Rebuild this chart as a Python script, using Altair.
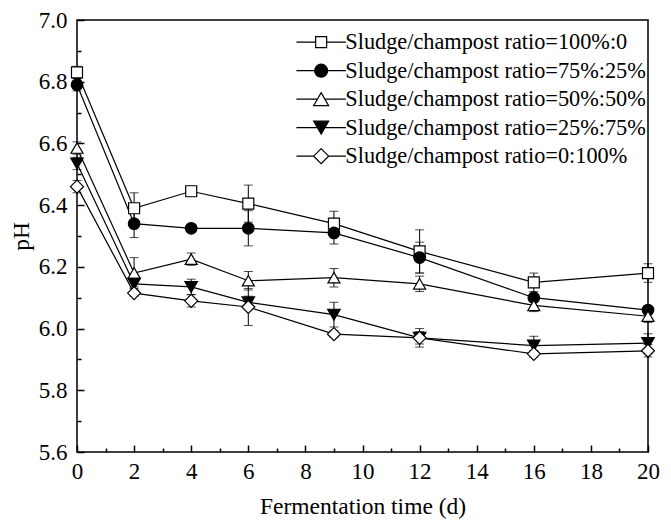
import altair as alt
import pandas as pd

days = [0, 2, 4, 6, 9, 12, 16, 20]
series_names = [
    "Sludge/champost ratio=100%:0",
    "Sludge/champost ratio=75%:25%",
    "Sludge/champost ratio=50%:50%",
    "Sludge/champost ratio=25%:75%",
    "Sludge/champost ratio=0:100%",
]
ph_100_0 = [6.83, 6.39, 6.445, 6.405, 6.34, 6.25, 6.15, 6.18]
ph_75_25 = [6.79, 6.34, 6.325, 6.325, 6.31, 6.23, 6.10, 6.06]
ph_50_50 = [6.585, 6.18, 6.225, 6.155, 6.165, 6.145, 6.075, 6.04]
ph_25_75 = [6.535, 6.145, 6.135, 6.085, 6.045, 5.97, 5.945, 5.953]
ph_0_100 = [6.46, 6.115, 6.09, 6.07, 5.982, 5.97, 5.918, 5.928]
err_100_0 = [0.02, 0.05, 0.01, 0.06, 0.04, 0.07, 0.03, 0.03]
err_75_25 = [0.02, 0.045, 0.01, 0.057, 0.036, 0.05, 0.01, 0.01]
err_50_50 = [0.02, 0.05, 0.02, 0.03, 0.03, 0.025, 0.02, 0.02]
err_25_75 = [0.02, 0.01, 0.025, 0.02, 0.04, 0.02, 0.03, 0.03]
err_0_100 = [0.02, 0.01, 0.02, 0.06, 0.01, 0.03, 0.01, 0.02]

x_label_values = list(range(0, 21, 2))
x_minor_values = list(range(1, 20, 2))
y_label_values = [round(5.6 + 0.2 * i, 1) for i in range(8)]
y_minor_values = [round(5.7 + 0.2 * i, 1) for i in range(7)]

marker_shapes = ["square", "circle", "triangle-up", "triangle-down", "diamond"]
marker_fills = ["white", "black", "white", "black", "white"]
marker_strokes = ["black", "black", "black", "black", "black"]
marker_sizes = [121, 169, 256, 256, 225]
legend_paths = [
    "M-4.5,0H-1M1,0H4.5M-1,-1H1V1H-1Z",
    "M-4.5,0H-1.18M1.18,0H4.5M1.18,0A1.18,1.18,0,1,1,-1.18,0A1.18,1.18,0,1,1,1.18,0Z",
    "M-4.5,0H-0.68M0.68,0H4.5M0,-1.18L1.36,1.18H-1.36Z",
    "M-4.5,0H-0.68M0.68,0H4.5M0,1.18L1.36,-1.18H-1.36Z",
    "M-4.5,0H-1.36M1.36,0H4.5M0,-1.36L1.36,0L0,1.36L-1.36,0Z",
]

rows = []
for name, vals, errs in zip(
    series_names,
    [ph_100_0, ph_75_25, ph_50_50, ph_25_75, ph_0_100],
    [err_100_0, err_75_25, err_50_50, err_25_75, err_0_100],
):
    for d, v, e in zip(days, vals, errs):
        rows.append({"series": name, "day": d, "ph": v, "lo": v - e, "hi": v + e})
df = pd.DataFrame(rows)

FONT = "Liberation Serif"
xs = alt.Scale(domain=[0, 20], nice=False, zero=False)
ys = alt.Scale(domain=[5.6, 7.0], nice=False, zero=False)

base = alt.Chart(df)

lines = base.mark_line(color="black", strokeWidth=1.2).encode(
    x=alt.X("day:Q", scale=xs, axis=alt.Axis(
        orient="bottom", values=x_label_values, ticks=False, domain=False, grid=False,
        labelPadding=8, format="d", title="Fermentation time (d)",
        titleY=61, titleBaseline="alphabetic",
        labelFontSize=23, titleFontSize=23.5, labelFlush=False)),
    y=alt.Y("ph:Q", scale=ys, axis=alt.Axis(
        orient="left", values=y_label_values, ticks=False, domain=False, grid=False,
        labelPadding=10, format=".1f", title="pH", titlePadding=5,
        labelFontSize=23, titleFontSize=23.5, labelFlush=False)),
    detail="series:N",
)

err_rules = base.mark_rule(color="black", strokeWidth=1).encode(
    x=alt.X("day:Q", scale=xs, axis=alt.Axis(
        orient="bottom", values=x_label_values, labels=False, domain=False, grid=False,
        tickSize=7, offset=-7, tickWidth=1.5, tickColor="black", title=None)),
    y=alt.Y("lo:Q", scale=ys, axis=alt.Axis(
        orient="left", values=y_label_values, labels=False, domain=False, grid=False,
        tickSize=7, offset=-7, tickWidth=1.5, tickColor="black", title=None)),
    y2="hi:Q",
)

caps = base.transform_fold(["lo", "hi"], as_=["end", "val"]).mark_tick(
    color="black", orient="horizontal", size=9, thickness=1
).encode(
    x=alt.X("day:Q", scale=xs, axis=alt.Axis(
        orient="bottom", values=x_minor_values, labels=False, domain=False, grid=False,
        tickSize=4, offset=-4, tickWidth=1.5, tickColor="black", title=None)),
    y=alt.Y("val:Q", scale=ys, axis=alt.Axis(
        orient="left", values=y_minor_values, labels=False, domain=False, grid=False,
        tickSize=4, offset=-4, tickWidth=1.5, tickColor="black", title=None)),
)

points = base.mark_point(filled=True, stroke="black", strokeWidth=1.2, opacity=1).encode(
    x=alt.X("day:Q", scale=xs, axis=None),
    y=alt.Y("ph:Q", scale=ys, axis=None),
    shape=alt.Shape("series:N", scale=alt.Scale(domain=series_names, range=marker_shapes), legend=None),
    fill=alt.Fill("series:N", scale=alt.Scale(domain=series_names, range=marker_fills), legend=None),
    size=alt.Size("series:N", scale=alt.Scale(domain=series_names, range=marker_sizes), legend=None),
)

legend_cfg = dict(
    title=None, orient="none", legendX=233, legendY=11,
    symbolSize=121, labelOffset=13, rowPadding=5.5, padding=0,
    labelFont=FONT, labelFontSize=22.3, labelColor="black", labelLimit=400,
    symbolStrokeColor="black", symbolStrokeWidth=1.2, symbolOpacity=1,
)

legend_layer = base.transform_filter("datum.day < 0").mark_point(
    filled=True, strokeWidth=1.2, opacity=1, size=121
).encode(
    x=alt.X("day:Q", scale=xs, axis=None),
    y=alt.Y("ph:Q", scale=ys, axis=None),
    shape=alt.Shape("series:N", scale=alt.Scale(domain=series_names, range=legend_paths),
                    legend=alt.Legend(**legend_cfg)),
    fill=alt.Fill("series:N", scale=alt.Scale(domain=series_names, range=marker_fills),
                  legend=alt.Legend(**legend_cfg)),
    stroke=alt.Stroke("series:N", scale=alt.Scale(domain=series_names, range=marker_strokes),
                      legend=alt.Legend(**legend_cfg)),
)

chart = alt.layer(lines, err_rules, caps, points, legend_layer).resolve_scale(
    shape="independent", fill="independent", size="independent", stroke="independent"
).resolve_axis(
    x="independent", y="independent"
).properties(
    width=571, height=432,
    autosize=alt.AutoSizeParams(type="none"),
    padding={"left": 69, "top": 12, "right": 15, "bottom": 72},
).configure_view(
    stroke="black", strokeWidth=1.5
).configure_axis(
    labelFont=FONT, labelColor="black",
    titleFont=FONT, titleFontWeight="normal", titleColor="black",
)

chart.save("out.html", embed_options={"renderer": "svg", "actions": False})
